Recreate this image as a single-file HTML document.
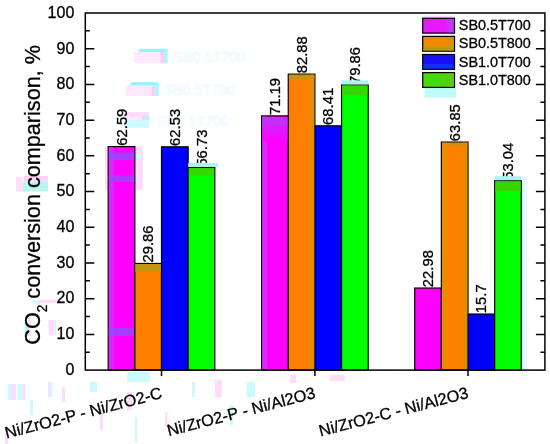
<!DOCTYPE html><html><head><meta charset="utf-8"><style>html,body{margin:0;padding:0;background:#fff}svg{display:block;will-change:transform}text{font-family:"Liberation Sans",sans-serif;fill:#000;stroke:#000;stroke-width:0.3px}</style></head><body>
<svg width="550" height="444" viewBox="0 0 550 444">
<rect width="550" height="444" fill="#fff"/>
<defs><filter id="bl" x="-5%" y="-20%" width="110%" height="140%"><feGaussianBlur stdDeviation="0.9"/></filter></defs>
<rect x="134.0" y="51.8" width="29.6" height="11.4" fill="#ffe8fb"/>
<rect x="139.0" y="48.8" width="25.6" height="3.2" fill="#8ef4ff"/>
<rect x="160.6" y="51.8" width="3.5" height="11.4" fill="#ffccf6"/>
<rect x="164.1" y="48.8" width="3.5" height="14.4" fill="#a8f6ff"/>
<text font-size="14.4" x="173.5" y="61.7" style="fill:#cdeeff;stroke:none" opacity="0.55" filter="url(#bl)">SB0.5T700</text>
<rect x="126.0" y="85.2" width="28.7" height="10.8" fill="#ffe8fb"/>
<rect x="131.0" y="82.2" width="24.7" height="3.2" fill="#8ef4ff"/>
<rect x="151.7" y="85.2" width="3.5" height="10.8" fill="#ffccf6"/>
<rect x="155.2" y="82.2" width="3.5" height="13.8" fill="#a8f6ff"/>
<text font-size="14.4" x="163.6" y="94.5" style="fill:#cdeeff;stroke:none" opacity="0.55" filter="url(#bl)">SB0.5T700</text>
<rect x="124.4" y="115.6" width="20.6" height="11.8" fill="#ffe8fb"/>
<rect x="129.4" y="112.6" width="16.6" height="3.2" fill="#8ef4ff"/>
<rect x="142.0" y="115.6" width="3.5" height="11.8" fill="#ffccf6"/>
<rect x="145.5" y="112.6" width="3.5" height="14.8" fill="#a8f6ff"/>
<text font-size="14.4" x="157" y="125.9" style="fill:#cdeeff;stroke:none" opacity="0.55" filter="url(#bl)">SB0.5T700</text>
<rect x="124.4" y="120.0" width="24.6" height="7.4" fill="#c9fbff"/>
<rect x="125.0" y="112.0" width="24.0" height="3.3" fill="#ffdcfa"/>
<rect x="125.0" y="119.7" width="24.0" height="7.6" fill="#c9fbff"/>
<rect x="7.5" y="384.0" width="3.5" height="16.0" fill="#c9fbff"/>
<rect x="11.0" y="384.0" width="5.0" height="16.0" fill="#ffdcfa"/>
<rect x="17.5" y="384.0" width="5.0" height="16.0" fill="#c9fbff"/>
<rect x="22.5" y="384.0" width="2.5" height="16.0" fill="#ffdcfa"/>
<rect x="48.0" y="382.0" width="2.0" height="15.0" fill="#ffdcfa"/>
<rect x="50.0" y="382.0" width="2.5" height="15.0" fill="#c9fbff"/>
<rect x="62.0" y="387.0" width="3.0" height="15.0" fill="#ffdcfa"/>
<rect x="90.0" y="382.0" width="7.0" height="10.0" fill="#c9fbff"/>
<rect x="127.0" y="392.0" width="5.0" height="18.0" fill="#ffdcfa"/>
<rect x="135.0" y="417.0" width="2.5" height="25.0" fill="#c9fbff"/>
<rect x="165.0" y="412.0" width="2.5" height="15.0" fill="#ffdcfa"/>
<rect x="192.0" y="382.0" width="3.0" height="15.0" fill="#c9fbff"/>
<rect x="215.0" y="380.0" width="7.0" height="17.0" fill="#ffdcfa"/>
<rect x="247.0" y="382.0" width="8.0" height="15.0" fill="#c9fbff"/>
<rect x="127.0" y="372.0" width="23.0" height="10.0" fill="#c9fbff"/>
<rect x="5.0" y="430.0" width="3.0" height="14.0" fill="#ffdcfa"/>
<rect x="30.0" y="400.0" width="3.0" height="15.0" fill="#c9fbff"/>
<rect x="100.0" y="410.0" width="3.0" height="20.0" fill="#ffdcfa"/>
<rect x="230.0" y="405.0" width="3.0" height="20.0" fill="#c9fbff"/>
<rect x="290.0" y="375.0" width="6.0" height="8.0" fill="#ffdcfa"/>
<rect x="330.0" y="375.0" width="15.0" height="6.0" fill="#ffdcfa"/>
<rect x="105.0" y="146.0" width="3.0" height="44.0" fill="#ffdcfa"/>
<rect x="135.5" y="146.0" width="7.5" height="44.0" fill="#ffdcfa"/>
<rect x="135.5" y="153.0" width="5.5" height="6.0" fill="#c9fbff"/>
<rect x="24.0" y="176.0" width="24.0" height="5.5" fill="#ffd2f6"/>
<rect x="22.5" y="181.5" width="25.5" height="10.0" fill="#b9f6f0"/>
<rect x="16.0" y="177.0" width="6.5" height="14.5" fill="#ffdcfa"/>
<rect x="28.0" y="318.0" width="3.0" height="18.0" fill="#ffdcfa"/>
<rect x="24.5" y="322.0" width="3.5" height="14.0" fill="#c4f7f2"/>
<rect x="48.5" y="320.0" width="6.0" height="15.0" fill="#ffdcfa"/>
<rect x="54.5" y="320.0" width="1.5" height="15.0" fill="#c9fbff"/>
<rect x="33.0" y="300.0" width="4.0" height="4.0" fill="#c9fbff"/>
<rect x="37.5" y="300.0" width="2.5" height="4.0" fill="#ffdcfa"/>
<rect x="40.0" y="300.0" width="18.0" height="3.0" fill="#ffdcfa"/>
<rect x="521.6" y="176.0" width="5.9" height="193.0" fill="#e4fcff"/>
<rect x="424.5" y="88.0" width="31.5" height="9.5" fill="#bdfbff"/>
<rect x="423.0" y="15.5" width="32.0" height="3.0" fill="#ffdcfa"/>
<rect x="108.20" y="146.59" width="26.65" height="223.51" fill="#ff00ff" stroke="#000" stroke-width="1.2"/>
<text font-size="14.8" transform="translate(126.62,145.69) rotate(-90)">62.59</text>
<rect x="134.85" y="263.47" width="26.65" height="106.63" fill="#ff8000" stroke="#000" stroke-width="1.2"/>
<text font-size="14.8" transform="translate(153.27,262.57) rotate(-90)">29.86</text>
<rect x="161.50" y="146.81" width="26.65" height="223.29" fill="#0000ff" stroke="#000" stroke-width="1.2"/>
<text font-size="14.8" transform="translate(179.92,145.91) rotate(-90)">62.53</text>
<rect x="188.15" y="167.52" width="26.65" height="202.58" fill="#00ff00" stroke="#000" stroke-width="1.2"/>
<text font-size="14.8" transform="translate(206.57,166.62) rotate(-90)">56.73</text>
<rect x="261.60" y="115.88" width="26.65" height="254.22" fill="#ff00ff" stroke="#000" stroke-width="1.2"/>
<text font-size="14.8" transform="translate(280.02,114.98) rotate(-90)">71.19</text>
<rect x="288.25" y="74.14" width="26.65" height="295.96" fill="#ff8000" stroke="#000" stroke-width="1.2"/>
<text font-size="14.8" transform="translate(306.68,73.24) rotate(-90)">82.88</text>
<rect x="314.90" y="125.81" width="26.65" height="244.29" fill="#0000ff" stroke="#000" stroke-width="1.2"/>
<text font-size="14.8" transform="translate(333.32,124.91) rotate(-90)">68.41</text>
<rect x="341.55" y="84.92" width="26.65" height="285.18" fill="#00ff00" stroke="#000" stroke-width="1.2"/>
<text font-size="14.8" transform="translate(359.97,84.02) rotate(-90)">79.86</text>
<rect x="414.70" y="288.04" width="26.65" height="82.06" fill="#ff00ff" stroke="#000" stroke-width="1.2"/>
<text font-size="14.8" transform="translate(433.12,287.14) rotate(-90)">22.98</text>
<rect x="441.35" y="142.09" width="26.65" height="228.01" fill="#ff8000" stroke="#000" stroke-width="1.2"/>
<text font-size="14.8" transform="translate(459.78,141.19) rotate(-90)">63.85</text>
<rect x="468.00" y="314.04" width="26.65" height="56.06" fill="#0000ff" stroke="#000" stroke-width="1.2"/>
<text font-size="14.8" transform="translate(486.43,313.14) rotate(-90)">15.7</text>
<rect x="494.65" y="180.69" width="26.65" height="189.41" fill="#00ff00" stroke="#000" stroke-width="1.2"/>
<text font-size="14.8" transform="translate(513.07,179.79) rotate(-90)">53.04</text>
<rect x="108.8" y="147.2" width="4.9" height="222.1" fill="#c838ff" opacity="0.75"/>
<rect x="135.4" y="264.1" width="25.5" height="7.6" fill="#c29410"/>
<rect x="188.2" y="162.9" width="29.7" height="4.1" fill="#aef3f3"/>
<rect x="188.8" y="168.1" width="25.5" height="7.4" fill="#3fcf00" opacity="0.85"/>
<rect x="262.2" y="116.5" width="4.9" height="252.8" fill="#c838ff" opacity="0.75"/>
<rect x="288.9" y="74.7" width="25.4" height="4.6" fill="#c29410"/>
<rect x="309.7" y="74.7" width="4.6" height="294.6" fill="#d89000" opacity="0.8"/>
<rect x="341.5" y="80.3" width="26.6" height="4.1" fill="#aef3f3"/>
<rect x="342.1" y="85.5" width="25.4" height="9.9" fill="#3fcf00" opacity="0.85"/>
<rect x="442.0" y="142.7" width="25.4" height="2.4" fill="#c29410"/>
<rect x="442.0" y="142.7" width="4.9" height="226.6" fill="#e88a00" opacity="0.8"/>
<rect x="462.8" y="142.7" width="4.6" height="226.6" fill="#d89000" opacity="0.8"/>
<rect x="494.6" y="176.1" width="26.6" height="4.1" fill="#aef3f3"/>
<rect x="495.2" y="181.3" width="25.4" height="9.9" fill="#3fcf00" opacity="0.85"/>
<rect x="108.8" y="152.4" width="25.5" height="7.6" fill="#9a48ff" opacity="0.85"/>
<rect x="108.8" y="175.3" width="25.5" height="6.6" fill="#9a48ff" opacity="0.85"/>
<rect x="108.8" y="328.0" width="25.5" height="8.0" fill="#9a48ff" opacity="0.85"/>
<defs><linearGradient id="pg" x1="0" y1="0" x2="0" y2="1"><stop offset="0" stop-color="#b838ff"/><stop offset="1" stop-color="#ff00ff"/></linearGradient></defs>
<rect x="262.2" y="117.2" width="25.4" height="24" fill="url(#pg)"/>
<rect x="85.3" y="13.0" width="459.59999999999997" height="357.1" fill="none" stroke="#000" stroke-width="1.5"/>
<text font-size="16" text-anchor="end" x="74.3" y="374.90">0</text>
<path d="M85.3 352.25h4.5M544.9 352.25h-4.5" stroke="#000" stroke-width="1.5"/>
<path d="M85.3 334.39h9M544.9 334.39h-9" stroke="#000" stroke-width="1.5"/>
<text font-size="16" text-anchor="end" x="74.3" y="339.19">10</text>
<path d="M85.3 316.54h4.5M544.9 316.54h-4.5" stroke="#000" stroke-width="1.5"/>
<path d="M85.3 298.68h9M544.9 298.68h-9" stroke="#000" stroke-width="1.5"/>
<text font-size="16" text-anchor="end" x="74.3" y="303.48">20</text>
<path d="M85.3 280.83h4.5M544.9 280.83h-4.5" stroke="#000" stroke-width="1.5"/>
<path d="M85.3 262.97h9M544.9 262.97h-9" stroke="#000" stroke-width="1.5"/>
<text font-size="16" text-anchor="end" x="74.3" y="267.77">30</text>
<path d="M85.3 245.12h4.5M544.9 245.12h-4.5" stroke="#000" stroke-width="1.5"/>
<path d="M85.3 227.26h9M544.9 227.26h-9" stroke="#000" stroke-width="1.5"/>
<text font-size="16" text-anchor="end" x="74.3" y="232.06">40</text>
<path d="M85.3 209.41h4.5M544.9 209.41h-4.5" stroke="#000" stroke-width="1.5"/>
<path d="M85.3 191.55h9M544.9 191.55h-9" stroke="#000" stroke-width="1.5"/>
<text font-size="16" text-anchor="end" x="74.3" y="196.35">50</text>
<path d="M85.3 173.70h4.5M544.9 173.70h-4.5" stroke="#000" stroke-width="1.5"/>
<path d="M85.3 155.84h9M544.9 155.84h-9" stroke="#000" stroke-width="1.5"/>
<text font-size="16" text-anchor="end" x="74.3" y="160.64">60</text>
<path d="M85.3 137.99h4.5M544.9 137.99h-4.5" stroke="#000" stroke-width="1.5"/>
<path d="M85.3 120.13h9M544.9 120.13h-9" stroke="#000" stroke-width="1.5"/>
<text font-size="16" text-anchor="end" x="74.3" y="124.93">70</text>
<path d="M85.3 102.28h4.5M544.9 102.28h-4.5" stroke="#000" stroke-width="1.5"/>
<path d="M85.3 84.42h9M544.9 84.42h-9" stroke="#000" stroke-width="1.5"/>
<text font-size="16" text-anchor="end" x="74.3" y="89.22">80</text>
<path d="M85.3 66.56h4.5M544.9 66.56h-4.5" stroke="#000" stroke-width="1.5"/>
<path d="M85.3 48.71h9M544.9 48.71h-9" stroke="#000" stroke-width="1.5"/>
<text font-size="16" text-anchor="end" x="74.3" y="53.51">90</text>
<path d="M85.3 30.86h4.5M544.9 30.86h-4.5" stroke="#000" stroke-width="1.5"/>
<text font-size="16" text-anchor="end" x="74.3" y="17.80">100</text>
<path d="M161.5 370.1v6" stroke="#000" stroke-width="1.5"/>
<text font-size="16.3" text-anchor="end" transform="translate(162.90,397.80) rotate(-14.6)">Ni/ZrO2-P - Ni/ZrO2-C</text>
<path d="M314.9 370.1v6" stroke="#000" stroke-width="1.5"/>
<text font-size="16.3" text-anchor="end" transform="translate(316.30,397.80) rotate(-14.6)">Ni/ZrO2-P - Ni/Al2O3</text>
<path d="M468.0 370.1v6" stroke="#000" stroke-width="1.5"/>
<text font-size="16.3" text-anchor="end" transform="translate(469.40,397.80) rotate(-14.6)">Ni/ZrO2-C - Ni/Al2O3</text>
<text font-size="22.5" transform="translate(39.6,344.7) rotate(-90) scale(0.9615,1)">CO<tspan font-size="14.2" dy="7.4">2</tspan><tspan dy="-7.4"> conversion comparison, %</tspan></text>
<rect x="422.7" y="18.30" width="31.8" height="14.8" fill="#e61aff" stroke="#000" stroke-width="1.25"/>
<text font-size="14.4" x="458.8" y="30.30">SB0.5T700</text>
<rect x="422.7" y="36.40" width="31.8" height="14.8" fill="#f08a00" stroke="#000" stroke-width="1.25"/>
<text font-size="14.4" x="458.8" y="48.40">SB0.5T800</text>
<rect x="422.7" y="54.50" width="31.8" height="14.8" fill="#1a10f8" stroke="#000" stroke-width="1.25"/>
<text font-size="14.4" x="458.8" y="66.50">SB1.0T700</text>
<rect x="422.7" y="72.60" width="31.8" height="14.8" fill="#48d810" stroke="#000" stroke-width="1.25"/>
<text font-size="14.4" x="458.8" y="84.60">SB1.0T800</text>
<rect x="447.0" y="19.1" width="6.7" height="13.2" fill="#b840ff" opacity="0.8"/>
<rect x="423.5" y="46.8" width="30.2" height="3.6" fill="#a8a010" opacity="0.9"/>
<rect x="448.0" y="37.3" width="5.7" height="13.1" fill="#c89a08" opacity="0.7"/>
<rect x="423.5" y="64.0" width="30.2" height="4.5" fill="#1038f0" opacity="0.8"/>
<rect x="446.0" y="73.4" width="7.7" height="13.2" fill="#68c418" opacity="0.7"/>
</svg></body></html>
